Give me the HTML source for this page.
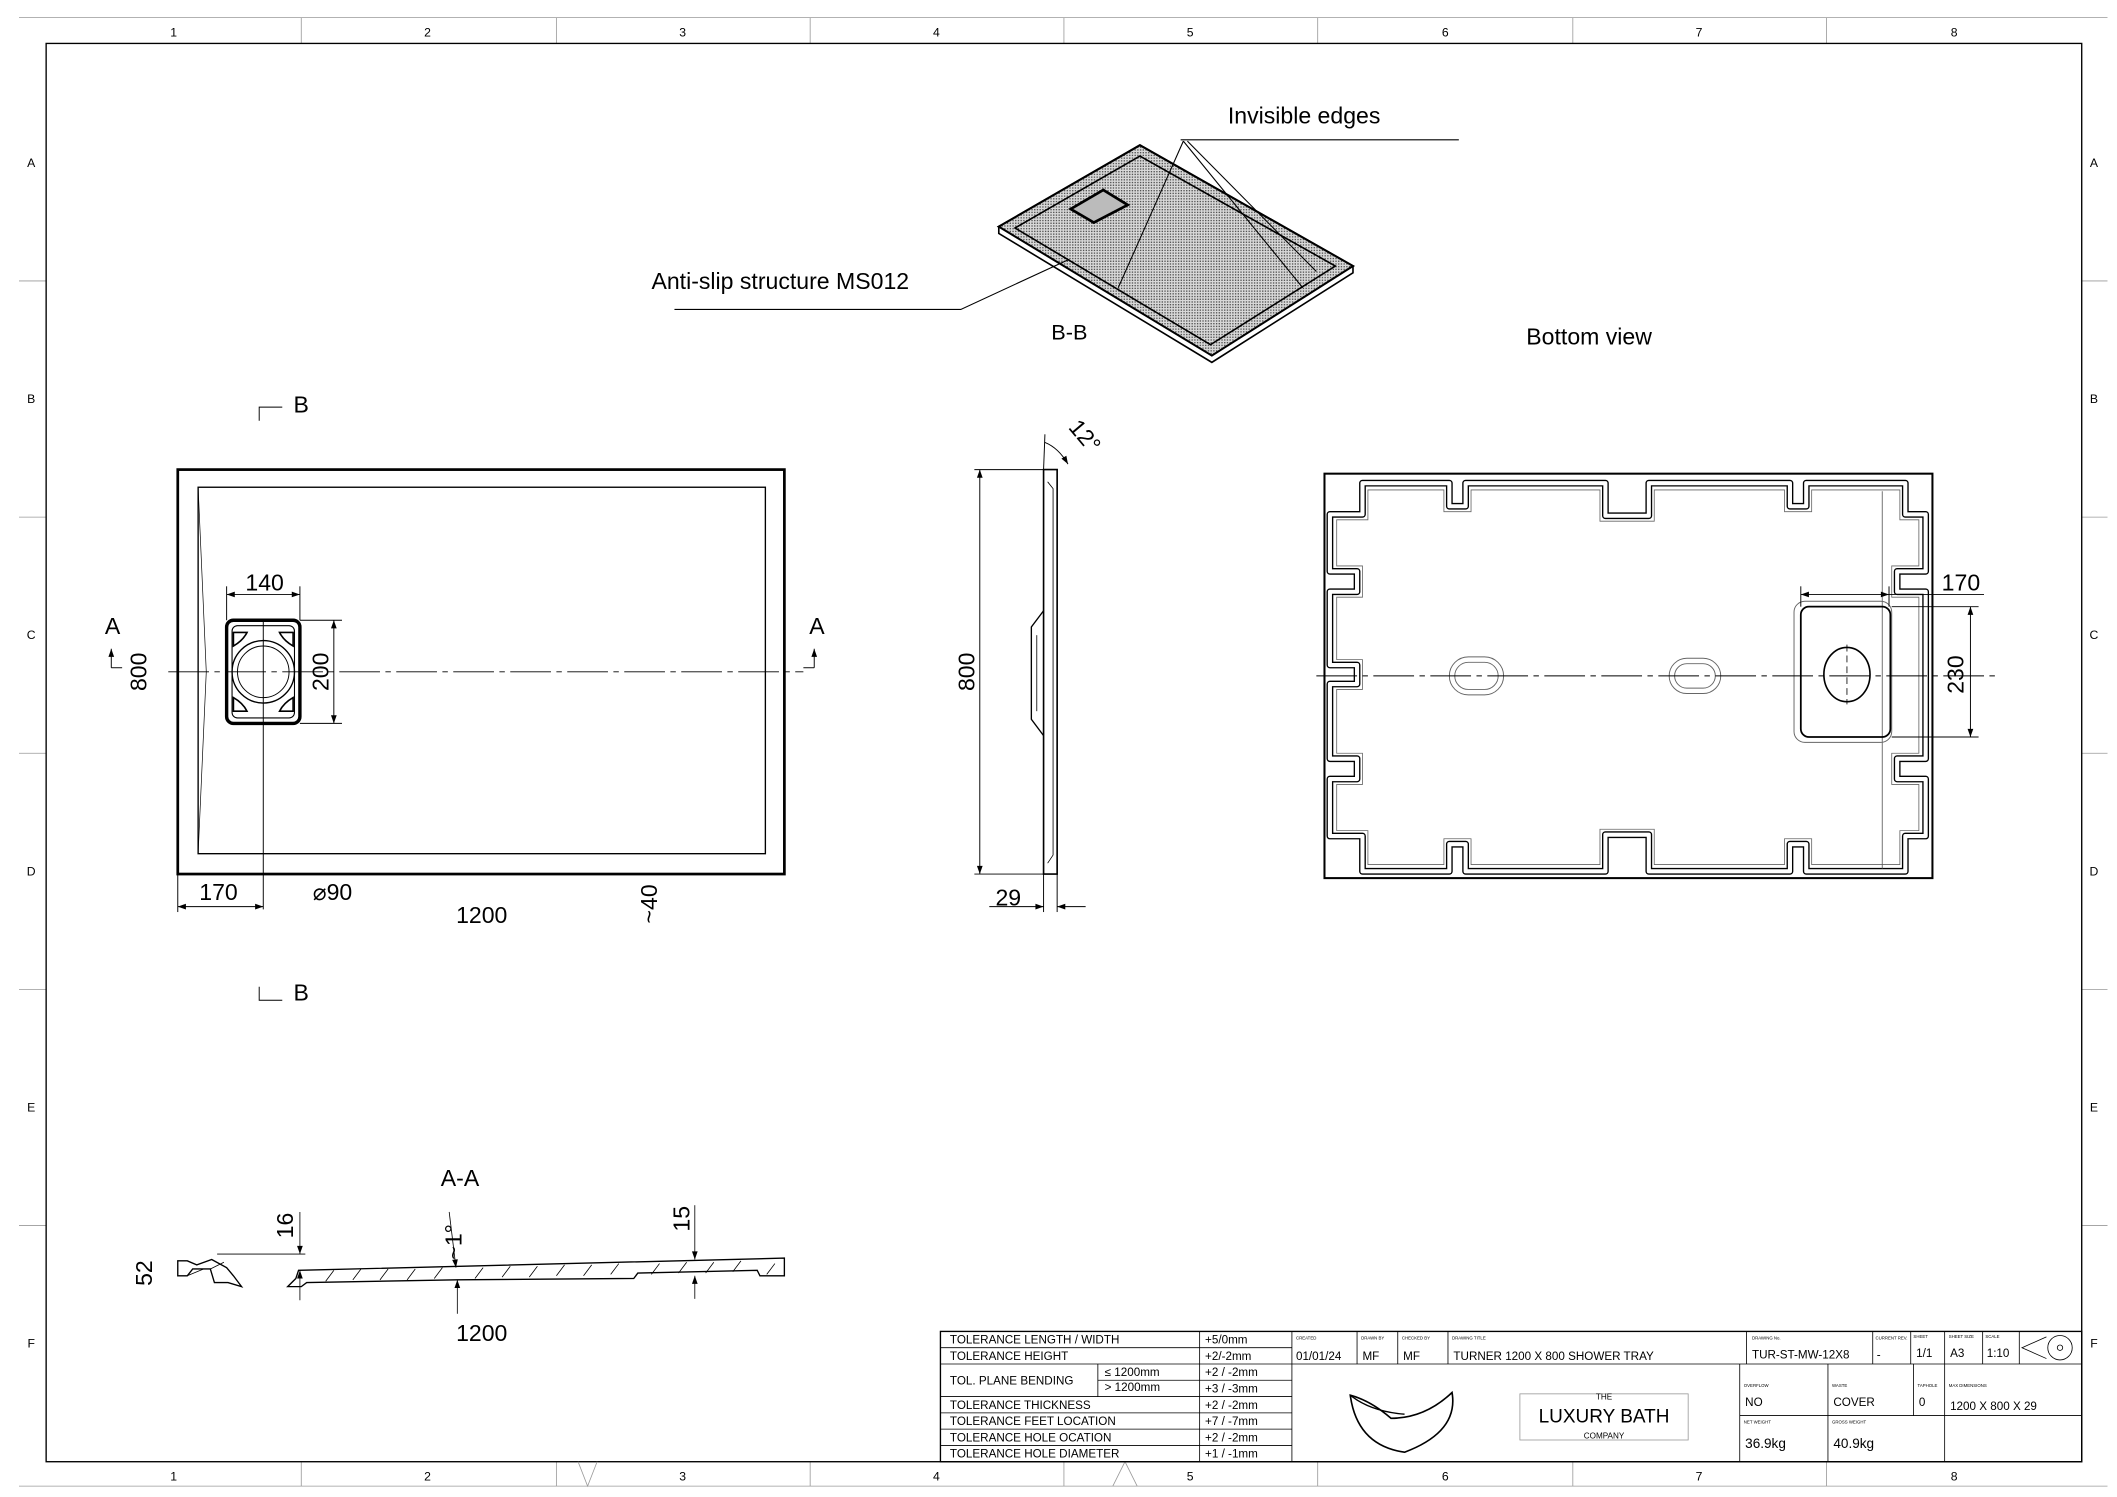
<!DOCTYPE html>
<html><head><meta charset="utf-8">
<style>
html,body{margin:0;padding:0;background:#fff;}
svg{display:block;}
text{font-family:"Liberation Sans",sans-serif;fill:#000;}
</style></head>
<body>
<svg width="2117" height="1497" viewBox="0 0 1560 1103" preserveAspectRatio="none" xmlns="http://www.w3.org/2000/svg">
<defs>
<pattern id="dots" width="2" height="2" patternUnits="userSpaceOnUse">
<rect width="2" height="2" fill="#d8d8d8"/><rect width="1" height="1" fill="#555"/>
</pattern>
<marker id="ar" viewBox="0 0 10 10" refX="10" refY="5" markerWidth="8" markerHeight="6" orient="auto-start-reverse" markerUnits="userSpaceOnUse"><path d="M0,1.5 L10,5 L0,8.5 Z" fill="#000"/></marker>
</defs>
<rect width="1560" height="1103" fill="#fff"/>
<!-- frame -->
<g stroke="#999" stroke-width="0.6" fill="none">
<line x1="14" y1="13" x2="1553" y2="13"/>
<line x1="14" y1="1095" x2="1553" y2="1095"/>
<line x1="222" y1="13" x2="222" y2="32"/><line x1="410" y1="13" x2="410" y2="32"/><line x1="597" y1="13" x2="597" y2="32"/><line x1="784" y1="13" x2="784" y2="32"/><line x1="971" y1="13" x2="971" y2="32"/><line x1="1159" y1="13" x2="1159" y2="32"/><line x1="1346" y1="13" x2="1346" y2="32"/>
<line x1="222" y1="1077" x2="222" y2="1095"/><line x1="410" y1="1077" x2="410" y2="1095"/><line x1="597" y1="1077" x2="597" y2="1095"/><line x1="784" y1="1077" x2="784" y2="1095"/><line x1="971" y1="1077" x2="971" y2="1095"/><line x1="1159" y1="1077" x2="1159" y2="1095"/><line x1="1346" y1="1077" x2="1346" y2="1095"/>
<line x1="14" y1="207" x2="34" y2="207"/><line x1="14" y1="381" x2="34" y2="381"/><line x1="14" y1="555" x2="34" y2="555"/><line x1="14" y1="729" x2="34" y2="729"/><line x1="14" y1="903" x2="34" y2="903"/>
<line x1="1534" y1="207" x2="1553" y2="207"/><line x1="1534" y1="381" x2="1553" y2="381"/><line x1="1534" y1="555" x2="1553" y2="555"/><line x1="1534" y1="729" x2="1553" y2="729"/><line x1="1534" y1="903" x2="1553" y2="903"/>
</g>
<rect x="34" y="32" width="1500" height="1045" fill="none" stroke="#000" stroke-width="1"/>
<g font-size="9" text-anchor="middle">
<text x="128" y="27">1</text><text x="315" y="27">2</text><text x="503" y="27">3</text><text x="690" y="27">4</text><text x="877" y="27">5</text><text x="1065" y="27">6</text><text x="1252" y="27">7</text><text x="1440" y="27">8</text>
<text x="128" y="1091">1</text><text x="315" y="1091">2</text><text x="503" y="1091">3</text><text x="690" y="1091">4</text><text x="877" y="1091">5</text><text x="1065" y="1091">6</text><text x="1252" y="1091">7</text><text x="1440" y="1091">8</text>
<text x="23" y="123">A</text><text x="23" y="297">B</text><text x="23" y="471">C</text><text x="23" y="645">D</text><text x="23" y="819">E</text><text x="23" y="993">F</text>
<text x="1543" y="123">A</text><text x="1543" y="297">B</text><text x="1543" y="471">C</text><text x="1543" y="645">D</text><text x="1543" y="819">E</text><text x="1543" y="993">F</text>
</g>
<g stroke="#999" stroke-width="0.6" fill="none"><path d="M426,1077 L433,1095 L440,1077"/><path d="M820,1095 L829,1077 L838,1095"/></g>

<!-- isometric -->
<path d="M736,167 L840,107 L997,196 L893,262 Z" fill="#fff" stroke="#000" stroke-width="1.5"/>
<path d="M736,167 L736,172 L893,267 L997,201 L997,196" fill="#fff" stroke="#000" stroke-width="1.2"/>
<path d="M736,167 L840,107 L997,196 L893,262 Z" fill="url(#dots)" stroke="#000" stroke-width="1.5"/>
<path d="M748,168 L840,115 L984,196 L892,254 Z" fill="url(#dots)" stroke="#000" stroke-width="1.2"/>
<path d="M789,154 L813,140 L831,151 L806,164 Z" fill="#bbb" stroke="#000" stroke-width="2"/>
<g stroke="#000" stroke-width="0.8" fill="none">
<line x1="870" y1="103" x2="1075" y2="103"/>
<line x1="872" y1="104" x2="824" y2="212"/>
<line x1="872" y1="104" x2="960" y2="212"/>
<line x1="875" y1="104" x2="970" y2="200"/>
<polyline points="497,228 708,228 788,191"/>
</g>
<text x="961" y="91" font-size="17" text-anchor="middle">Invisible edges</text>
<text x="575" y="213" font-size="17" text-anchor="middle">Anti-slip structure MS012</text>
<text x="788" y="250" font-size="16" text-anchor="middle">B-B</text>
<text x="1171" y="254" font-size="17" text-anchor="middle">Bottom view</text>

<!-- top view -->
<rect x="131" y="346" width="447" height="298" fill="none" stroke="#000" stroke-width="2"/>
<rect x="146" y="359" width="418" height="270" fill="none" stroke="#000" stroke-width="1"/>
<path d="M146,359 L152,495 L146,629" fill="none" stroke="#000" stroke-width="0.5"/>
<rect x="167" y="457" width="54" height="76" rx="5" fill="none" stroke="#000" stroke-width="2.5"/>
<rect x="171" y="461" width="46" height="68" rx="4" fill="none" stroke="#000" stroke-width="0.8"/>
<g fill="none" stroke="#000" stroke-width="1.2">
<path d="M172,466 h10 q-3,6 -10,10 z"/><path d="M216,466 h-10 q3,6 10,10 z"/><path d="M172,524 h10 q-3,-6 -10,-10 z"/><path d="M216,524 h-10 q3,-6 10,-10 z"/>
</g>
<circle cx="194" cy="495" r="23" fill="none" stroke="#000" stroke-width="1"/>
<circle cx="194" cy="495" r="19" fill="none" stroke="#000" stroke-width="0.7"/>
<line x1="124" y1="495" x2="592" y2="495" stroke="#000" stroke-width="0.7" stroke-dasharray="30,4,4,4"/>
<g stroke="#000" stroke-width="0.7" fill="none">
<line x1="194" y1="457" x2="194" y2="670"/>
<line x1="167" y1="432" x2="167" y2="457"/><line x1="221" y1="432" x2="221" y2="457"/>
<line x1="167" y1="438" x2="221" y2="438" marker-start="url(#ar)" marker-end="url(#ar)"/>
<line x1="221" y1="457" x2="252" y2="457"/><line x1="221" y1="533" x2="252" y2="533"/>
<line x1="246" y1="457" x2="246" y2="533" marker-start="url(#ar)" marker-end="url(#ar)"/>
<line x1="131" y1="644" x2="131" y2="672"/>
<line x1="131" y1="668" x2="194" y2="668" marker-start="url(#ar)" marker-end="url(#ar)"/>
<polyline points="191,310 191,300 208,300"/><polyline points="191,727 191,737 208,737"/>
<line x1="82" y1="492" x2="82" y2="478" marker-end="url(#ar)"/><line x1="82" y1="492" x2="90" y2="492"/>
<line x1="600" y1="492" x2="600" y2="478" marker-end="url(#ar)"/><line x1="600" y1="492" x2="592" y2="492"/>
</g>
<g font-size="17" text-anchor="middle">
<text x="195" y="435">140</text>
<text x="161" y="663">170</text>
<text x="245" y="663">⌀90</text>
<text x="355" y="680">1200</text>
<text x="222" y="304">B</text><text x="222" y="737">B</text>
<text x="83" y="467">A</text><text x="602" y="467">A</text>
<text transform="translate(242,495) rotate(-90)">200</text>
<text transform="translate(108,495) rotate(-90)">800</text>
<text transform="translate(484,666) rotate(-90)">~40</text>
</g>

<!-- side view -->
<g stroke="#000" fill="none">
<path d="M769,346 L779,346 L779,644 L769,644 Z" stroke-width="1.2"/>
<path d="M769,450 L760,462 L760,530 L769,542" stroke-width="1"/>
<path d="M772,355 L776,360 L776,630 L772,636" stroke-width="0.6"/>
<path d="M764,468 L764,524" stroke-width="0.6"/>
<g stroke-width="0.7">
<line x1="718" y1="346" x2="769" y2="346"/><line x1="718" y1="644" x2="769" y2="644"/>
<line x1="722" y1="346" x2="722" y2="644" marker-start="url(#ar)" marker-end="url(#ar)"/>
<line x1="769" y1="644" x2="769" y2="672"/><line x1="779" y1="644" x2="779" y2="672"/>
<line x1="729" y1="668" x2="769" y2="668" marker-end="url(#ar)"/><line x1="800" y1="668" x2="779" y2="668" marker-end="url(#ar)"/>
<line x1="769" y1="346" x2="770" y2="320"/><path d="M770,326 Q780,330 787,342" marker-end="url(#ar)"/>
</g>
</g>
<g font-size="17" text-anchor="middle">
<text transform="translate(718,495) rotate(-90)">800</text>
<text x="743" y="667">29</text>
<text transform="translate(795,325) rotate(50)">12°</text>
</g>

<!-- bottom view -->
<rect x="976" y="349" width="448" height="298" fill="none" stroke="#000" stroke-width="1.5"/>
<path d="M1004,356 H1068 V373 H1080 V356 H1183 V380 H1215 V356 H1319 V373 H1331 V356 H1404 V379 H1419 V421 H1398 V436 H1419 V559 H1398 V574 H1419 V616 H1404 V642 H1331 V622 H1319 V642 H1215 V615 H1183 V642 H1080 V622 H1068 V642 H1004 V616 H980 V574 H1000 V559 H980 V504 H1000 V490 H980 V436 H1000 V421 H980 V379 H1004 Z" fill="none" stroke="#000" stroke-width="5" stroke-linejoin="round"/>
<path d="M1004,356 H1068 V373 H1080 V356 H1183 V380 H1215 V356 H1319 V373 H1331 V356 H1404 V379 H1419 V421 H1398 V436 H1419 V559 H1398 V574 H1419 V616 H1404 V642 H1331 V622 H1319 V642 H1215 V615 H1183 V642 H1080 V622 H1068 V642 H1004 V616 H980 V574 H1000 V559 H980 V504 H1000 V490 H980 V436 H1000 V421 H980 V379 H1004 Z" fill="none" stroke="#fff" stroke-width="3" stroke-linejoin="round"/>
<path d="M1008,361 H1064 V377 H1084 V361 H1179 V384 H1219 V361 H1315 V377 H1335 V361 H1400 V383 H1414 V417 H1394 V440 H1414 V555 H1394 V578 H1414 V612 H1400 V637 H1335 V618 H1315 V637 H1219 V611 H1179 V637 H1084 V618 H1064 V637 H1008 V612 H985 V578 H1004 V555 H985 V508 H1004 V486 H985 V440 H1004 V417 H985 V383 H1008 Z" fill="none" stroke="#666" stroke-width="0.6"/>
<line x1="1387" y1="362" x2="1387" y2="640" stroke="#555" stroke-width="0.6"/>
<rect x="1322" y="443" width="72" height="104" rx="8" fill="none" stroke="#666" stroke-width="0.7"/>
<rect x="1327" y="447" width="66" height="96" rx="6" fill="none" stroke="#000" stroke-width="1.3"/>
<ellipse cx="1361" cy="497" rx="17" ry="20" fill="none" stroke="#000" stroke-width="1.2"/>
<line x1="1361" y1="475" x2="1361" y2="519" stroke="#000" stroke-width="0.6" stroke-dasharray="5,3"/>
<rect x="1068" y="484" width="40" height="28" rx="14" fill="none" stroke="#666" stroke-width="0.7"/>
<rect x="1072" y="488" width="32" height="20" rx="10" fill="none" stroke="#666" stroke-width="0.7"/>
<rect x="1230" y="485" width="38" height="26" rx="13" fill="none" stroke="#666" stroke-width="0.7"/>
<rect x="1234" y="489" width="30" height="18" rx="9" fill="none" stroke="#666" stroke-width="0.7"/>
<line x1="970" y1="498" x2="1470" y2="498" stroke="#000" stroke-width="0.7" stroke-dasharray="30,4,4,4"/>
<g stroke="#000" stroke-width="0.7" fill="none">
<line x1="1327" y1="432" x2="1327" y2="447"/><line x1="1392" y1="432" x2="1392" y2="447"/>
<line x1="1327" y1="438" x2="1392" y2="438" marker-start="url(#ar)" marker-end="url(#ar)"/>
<line x1="1392" y1="438" x2="1462" y2="438"/>
<line x1="1394" y1="447" x2="1458" y2="447"/><line x1="1394" y1="543" x2="1458" y2="543"/>
<line x1="1452" y1="447" x2="1452" y2="543" marker-start="url(#ar)" marker-end="url(#ar)"/>
</g>
<text x="1445" y="435" font-size="17" text-anchor="middle">170</text>
<text transform="translate(1447,497) rotate(-90)" font-size="17" text-anchor="middle">230</text>

<!-- section A-A -->
<text x="339" y="874" font-size="17" text-anchor="middle">A-A</text>
<g stroke="#000" stroke-width="1" fill="none">
<path d="M131,929 L131,940 L138,940 L142,935 L155,935 L158,945 L168,945 L178,948 L172,940 L167,934 L156,928 L145,932 L138,929 Z"/>
<path d="M220,936 L578,927 L578,940 L560,940 L558,936 L470,938 L467,942 L337,943 L226,945 L222,948 L212,948 L218,942 Z"/>
<path d="M150,935 L138,940 M165,930 L155,935" stroke-width="0.6"/>
</g>
<g stroke="#000" stroke-width="0.6">
<path d="M240,944 l6,-8 M260,943 l6,-8 M280,943 l6,-8 M300,943 l6,-8 M320,942 l6,-8 M350,942 l6,-8 M370,941 l6,-8 M390,941 l6,-8 M410,940 l6,-8 M430,940 l6,-8 M450,939 l6,-8 M480,939 l6,-8 M500,938 l6,-8 M520,938 l6,-8 M540,937 l6,-8 M565,939 l6,-8"/>
<line x1="160" y1="924" x2="225" y2="924"/>
<line x1="221" y1="893" x2="221" y2="924" marker-end="url(#ar)"/><line x1="221" y1="958" x2="221" y2="936" marker-end="url(#ar)"/>
<line x1="331" y1="893" x2="336" y2="934" marker-end="url(#ar)"/><line x1="337" y1="968" x2="337" y2="943" marker-end="url(#ar)"/>
<line x1="512" y1="888" x2="512" y2="928" marker-end="url(#ar)"/><line x1="512" y1="957" x2="512" y2="940" marker-end="url(#ar)"/>
</g>
<g font-size="17" text-anchor="middle">
<text transform="translate(216,903) rotate(-90)">16</text>
<text transform="translate(508,898) rotate(-90)">15</text>
<text transform="translate(340,915) rotate(-90)">~1°</text>
<text transform="translate(112,938) rotate(-90)">52</text>
<text x="355" y="988">1200</text>
</g>

<!-- title block -->
<g stroke="#000" stroke-width="0.6" fill="none">
<rect x="693" y="981" width="841" height="96" stroke-width="1"/>
<line x1="693" y1="993" x2="952" y2="993"/><line x1="693" y1="1005" x2="1534" y2="1005"/>
<line x1="809" y1="1017" x2="952" y2="1017"/><line x1="693" y1="1029" x2="952" y2="1029"/>
<line x1="693" y1="1041" x2="952" y2="1041"/><line x1="693" y1="1053" x2="952" y2="1053"/><line x1="693" y1="1065" x2="952" y2="1065"/>
<line x1="884" y1="981" x2="884" y2="1077"/><line x1="952" y1="981" x2="952" y2="1077"/>
<line x1="809" y1="1005" x2="809" y2="1029"/>
<line x1="1000" y1="981" x2="1000" y2="1005"/><line x1="1030" y1="981" x2="1030" y2="1005"/><line x1="1067" y1="981" x2="1067" y2="1005"/>
<line x1="1287" y1="981" x2="1287" y2="1005"/><line x1="1380" y1="981" x2="1380" y2="1005"/><line x1="1408" y1="981" x2="1408" y2="1005"/><line x1="1433" y1="981" x2="1433" y2="1005"/><line x1="1461" y1="981" x2="1461" y2="1005"/><line x1="1488" y1="981" x2="1488" y2="1005"/>
<line x1="1282" y1="1005" x2="1282" y2="1077"/><line x1="1347" y1="1005" x2="1347" y2="1077"/><line x1="1410" y1="1005" x2="1410" y2="1043"/><line x1="1433" y1="1005" x2="1433" y2="1077"/>
<line x1="1282" y1="1043" x2="1534" y2="1043"/>
<rect x="1120" y="1027" width="124" height="34" stroke="#999"/>
<path d="M995,1028 Q1010,1032 1025,1045 Q1050,1045 1070,1026 Q1075,1055 1035,1070 Q1000,1065 995,1028 Z" stroke-width="1.2"/>
<path d="M995,1028 Q1010,1040 1035,1042" stroke-width="1"/>
<path d="M1508,985 L1490,993 L1508,1001" /><circle cx="1518" cy="993" r="9"/><circle cx="1518" cy="993" r="2"/>
</g>
<g font-size="8.6">
<text x="700" y="990">TOLERANCE LENGTH / WIDTH</text><text x="888" y="990">+5/0mm</text>
<text x="700" y="1002">TOLERANCE HEIGHT</text><text x="888" y="1002">+2/-2mm</text>
<text x="700" y="1020">TOL. PLANE BENDING</text>
<text x="814" y="1014">≤ 1200mm</text><text x="888" y="1014">+2 / -2mm</text>
<text x="814" y="1025">&gt; 1200mm</text><text x="888" y="1026">+3 / -3mm</text>
<text x="700" y="1038">TOLERANCE THICKNESS</text><text x="888" y="1038">+2 / -2mm</text>
<text x="700" y="1050">TOLERANCE FEET LOCATION</text><text x="888" y="1050">+7 / -7mm</text>
<text x="700" y="1062">TOLERANCE HOLE OCATION</text><text x="888" y="1062">+2 / -2mm</text>
<text x="700" y="1074">TOLERANCE HOLE DIAMETER</text><text x="888" y="1074">+1 / -1mm</text>
<text x="955" y="1002">01/01/24</text><text x="1004" y="1002">MF</text><text x="1034" y="1002">MF</text>
<text x="1071" y="1002">TURNER 1200 X 800 SHOWER TRAY</text>
<text x="1291" y="1001">TUR-ST-MW-12X8</text><text x="1383" y="1001">-</text>
<text x="1412" y="1000">1/1</text><text x="1437" y="1000">A3</text><text x="1464" y="1000">1:10</text>
<text x="1286" y="1036">NO</text><text x="1351" y="1036">COVER</text><text x="1414" y="1036">0</text><text x="1437" y="1039">1200 X 800 X 29</text>
<text x="1286" y="1067" font-size="10">36.9kg</text><text x="1351" y="1067" font-size="10">40.9kg</text>
</g>
<g font-size="3.2" fill="#333">
<text x="955" y="987">CREATED</text><text x="1003" y="987">DRAWN BY</text><text x="1033" y="987">CHECKED BY</text><text x="1070" y="987">DRAWING TITLE</text>
<text x="1291" y="987">DRAWING No.</text><text x="1382" y="987">CURRENT REV.</text><text x="1410" y="986">SHEET</text><text x="1436" y="986">SHEET SIZE</text><text x="1463" y="986">SCALE</text>
<text x="1285" y="1022">OVERFLOW</text><text x="1350" y="1022">WASTE</text><text x="1413" y="1022">TAPHOLE</text><text x="1436" y="1022">MAX DIMENSIONS</text>
<text x="1285" y="1049">NET WEIGHT</text><text x="1350" y="1049">GROSS WEIGHT</text>
</g>
<text x="1182" y="1031" font-size="6" fill="#777" text-anchor="middle">THE</text>
<text x="1182" y="1048" font-size="14" text-anchor="middle">LUXURY BATH</text>
<text x="1182" y="1060" font-size="6" fill="#777" text-anchor="middle">COMPANY</text>
</svg>
</body></html>
